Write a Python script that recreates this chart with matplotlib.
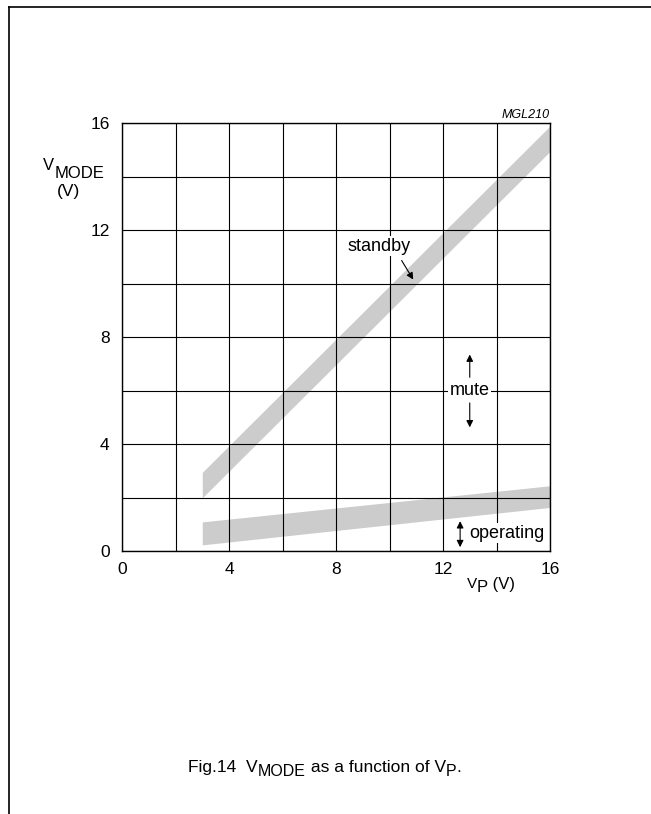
import matplotlib
matplotlib.use('Agg')
import matplotlib.pyplot as plt
from matplotlib.lines import Line2D
from matplotlib.transforms import IdentityTransform

plt.rcParams['font.family'] = ['Liberation Sans', 'DejaVu Sans']

# band edges (V_P in V, V_MODE in V)
vp = [3, 16]
standby_lo = [2.0, 14.95]
standby_hi = [2.95, 15.9]
operating_lo = [0.24, 1.64]
operating_hi = [1.1, 2.45]

major_ticks = [0, 4, 8, 12, 16]
minor_ticks = [2, 6, 10, 14]

W, H = 651, 814
fig = plt.figure(figsize=(W / 100, H / 100), dpi=100)
ax = fig.add_axes([122 / W, 1 - 551.3 / H, 428 / W, 428 / H])


def rich(x, y, parts, center=False):
    # parts: (text, fontsize, baseline drop in px); x, y in px from top-left
    r = fig.canvas.get_renderer()
    arts = []
    cx = 0
    for s, size, dy in parts:
        t = fig.text(0, 0, s, fontsize=size, va='baseline', ha='left',
                     transform=IdentityTransform())
        w = t.get_window_extent(r).width
        arts.append((t, cx, dy))
        cx += w
    x0 = x - cx / 2 if center else x
    for t, off, dy in arts:
        t.set_position((x0 + off, H - y - dy))


ax.fill_between(vp, standby_lo, standby_hi, color='#cccccc', lw=0, zorder=1)
ax.fill_between(vp, operating_lo, operating_hi, color='#cccccc', lw=0, zorder=1)

ax.set_xlim(0, 16)
ax.set_ylim(0, 16)
ax.set_xticks(major_ticks)
ax.set_yticks(major_ticks)
ax.set_xticks(minor_ticks, minor=True)
ax.set_yticks(minor_ticks, minor=True)
ax.tick_params(which='both', length=0, labelsize=12.5, colors='black')
ax.tick_params(axis='x', pad=8)
ax.tick_params(axis='y', pad=9)
ax.grid(True, which='both', color='black', lw=0.8, zorder=2)
ax.set_axisbelow(False)
for s in ax.spines.values():
    s.set_linewidth(1.0)
    s.set_zorder(3)

box = dict(facecolor='white', edgecolor='none', pad=1)
arrow = dict(arrowstyle='-|>', color='black', lw=0.8, mutation_scale=10)
ax.text(9.6, 11.41, 'standby', ha='center', va='center', fontsize=13, bbox=box, zorder=4)
ax.annotate('', xy=(10.94, 10.07), xytext=(10.4, 10.96), arrowprops=arrow, zorder=4)

ax.text(13.0, 6.0, 'mute', ha='center', va='center', fontsize=13, bbox=box, zorder=4)
ax.annotate('', xy=(13.0, 7.46), xytext=(13.0, 6.4), arrowprops=arrow, zorder=4)
ax.annotate('', xy=(13.0, 4.53), xytext=(13.0, 5.65), arrowprops=arrow, zorder=4)

ax.text(12.97, 0.67, 'operating', ha='left', va='center', fontsize=13, bbox=box, zorder=4)
ax.annotate('', xy=(12.64, 1.23), xytext=(12.64, 0.05),
            arrowprops=dict(arrow, arrowstyle='<|-|>'), zorder=4)

ax.text(1.0, 1.006, 'MGL210', transform=ax.transAxes, ha='right', va='bottom',
        fontsize=9, style='italic')

# axis titles
rich(43, 170, [('V', 12, 0), ('MODE', 12, 8.5)])
rich(69, 196, [('(V)', 12.5, 0)], center=True)
rich(467, 588, [('V', 11, 0), ('P', 12, 4.5), (' (V)', 12, 1.5)])

# caption
rich(325, 772, [('Fig.14  V', 12.5, 0), ('MODE', 11.5, 4.5), (' as a function of V', 12.5, 0),
                ('P', 11.5, 4.5), ('.', 12.5, 0)], center=True)

# page frame
fig.add_artist(Line2D([9 / W, 9 / W], [0, 1 - 7 / H], color='black', lw=1.2))
fig.add_artist(Line2D([9 / W, 1], [1 - 7 / H, 1 - 7 / H], color='black', lw=1.2))

fig.savefig('out.png', dpi=100)
